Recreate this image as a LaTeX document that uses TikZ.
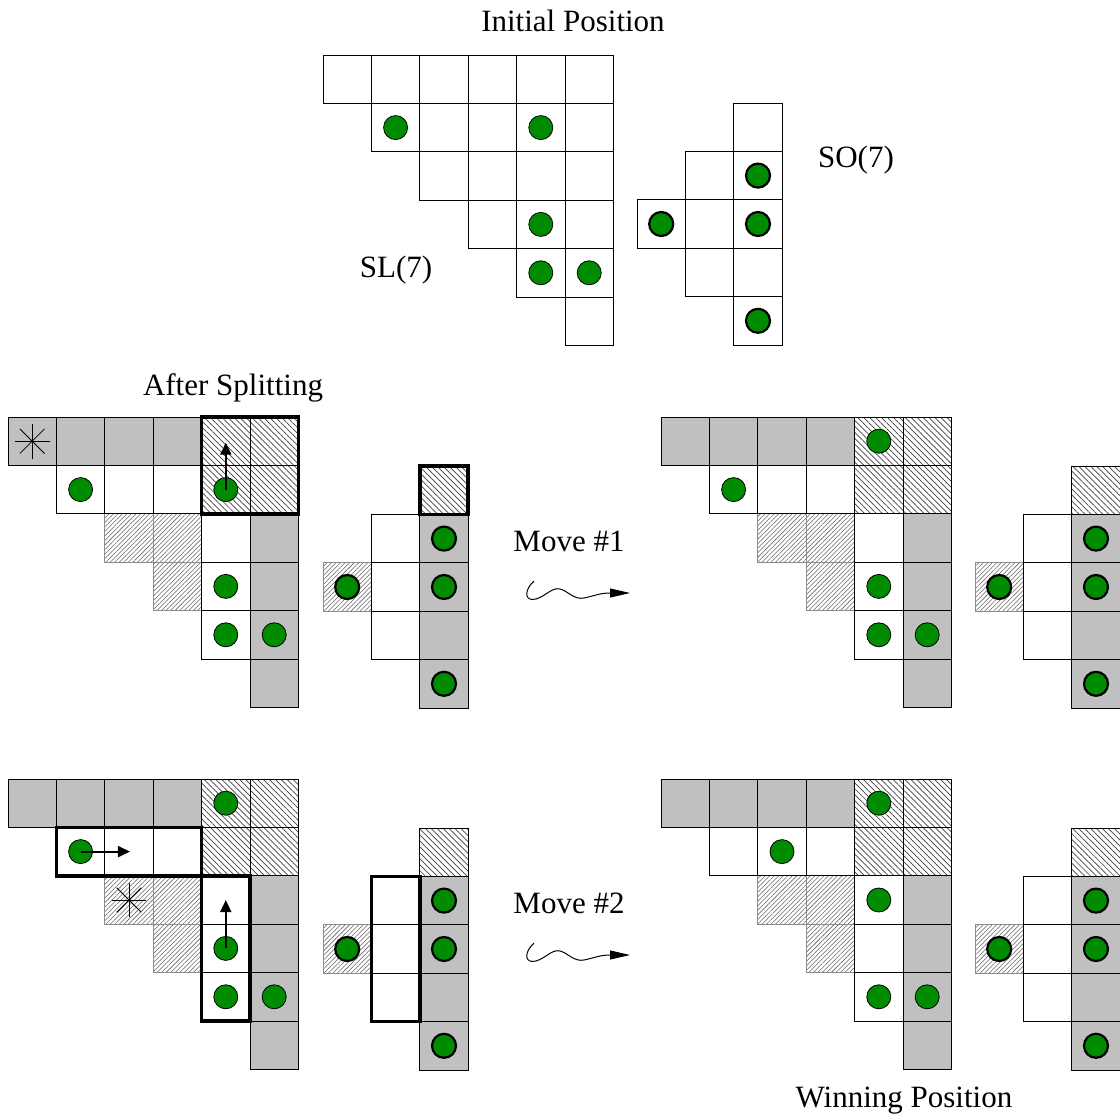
\documentclass[tikz,border=0pt]{standalone}
\usepackage{fontspec}
\setmainfont{Liberation Serif}
\usetikzlibrary{patterns.meta,arrows.meta}
\definecolor{cellgray}{RGB}{192,192,192}
\definecolor{tokgreen}{RGB}{0,140,0}
\tikzset{
  cellbase/.style={line width=0.8pt},
  wcell/.style={cellbase, draw=black, fill=white},
  gcell/.style={cellbase, draw=black, fill=cellgray},
  hacell/.style={cellbase, draw=black, pattern={Lines[angle=-45,distance=4.2pt,line width=0.7pt]}, pattern color=black!75},
  hbcell/.style={cellbase, draw=black!45, pattern={Lines[angle=45,distance=3.2pt,line width=0.55pt]}, pattern color=black!60},
  sltoken/.style={draw=black, fill=tokgreen, line width=0.8pt},
  sotoken/.style={draw=black, fill=tokgreen, line width=2.2pt},
  selbox/.style={draw=black, line width=3.5pt},
  movearrow/.style={line width=1.8pt, -{Triangle[length=12pt,width=11pt]}},
  squig/.style={line width=1pt, -{Triangle[length=20pt,width=9pt]}},
  lbl/.style={font=\fontsize{31}{36}\selectfont, inner sep=0pt, anchor=base},
  starline/.style={line width=0.8pt}
}
\newcommand\Cells[2]{\foreach \c/\r in {#2} {\draw[#1] (\c,\r) rectangle ++(1,1);}}
\newcommand\Toks[2]{\foreach \c/\r in {#2} {\draw[#1] (\c+0.5,\r+0.5) circle[radius=12pt];}}
\newcommand\Astar[2]{\foreach \a in {0,45,90,135} {\draw[starline] (#1+0.5,#2+0.5) +(\a:0.36) -- +(\a+180:0.36);}}
\newcommand\SplitSL{%
  \Cells{hbcell}{2/2,3/2,3/3}
  \Cells{wcell}{1/1,2/1,3/1,4/2,4/3,4/4}
  \Cells{gcell}{0/0,1/0,2/0,3/0,5/2,5/3,5/4,5/5}
  \Cells{hacell}{4/0,5/0,4/1,5/1}}
\newcommand\SplitSO{%
  \Cells{hbcell}{0/2}
  \Cells{wcell}{1/1,1/2,1/3}
  \Cells{gcell}{2/1,2/2,2/3,2/4}
  \Cells{hacell}{2/0}
  \Toks{sotoken}{2/1,2/2,2/4,0/2}}
\begin{document}
\begin{tikzpicture}[x=1pt,y=-1pt]
\fill[white] (0,0) rectangle (1120,1116);
\useasboundingbox (0,0) rectangle (1120,1116);

% ---------- labels ----------
\node[lbl] (tinit) at (573,32) {Initial Position};
\node[lbl] (tsl) at (396,277) {SL(7)};
\node[lbl] (tso) at (856,167) {SO(7)};
\node[lbl] (tsplit) at (233,395) {After Splitting};
\node[lbl] (tmove1) at (569,551) {Move \#1};
\node[lbl] (tmove2) at (569,913) {Move \#2};
\node[lbl] (twin) at (904,1107) {Winning Position};

% ---------- initial position ----------
\begin{scope}[shift={(323,55)},x=48.4pt,y=-48.4pt]
  \foreach \r in {0,...,5} {\foreach \c in {\r,...,5} {\draw[wcell] (\c,\r) rectangle ++(1,1);}}
  \Toks{sltoken}{1/1,4/1,4/3,4/4,5/4}
\end{scope}
\begin{scope}[shift={(637,103)},x=48.4pt,y=-48.4pt]
  \Cells{wcell}{2/0,2/1,2/2,2/3,2/4,1/1,1/2,1/3,0/2}
  \Toks{sotoken}{2/1,2/2,2/4,0/2}
\end{scope}

% ---------- after splitting ----------
\begin{scope}[shift={(8,417)},x=48.4pt,y=-48.4pt]
  \SplitSL
  \Toks{sltoken}{1/1,4/1,4/3,4/4,5/4}
  \Astar{0}{0}
  \draw[selbox] (4,0) rectangle (6,2);
  \coordinate (a1s) at (4.5,1.5);
  \coordinate (a1e) at (4.5,0.53);
  \draw[movearrow] (a1s) -- (a1e);
\end{scope}
\begin{scope}[shift={(323,466)},x=48.4pt,y=-48.4pt]
  \SplitSO
  \draw[selbox] (2,0) rectangle (3,1);
\end{scope}

% ---------- after move 1 ----------
\begin{scope}[shift={(661,417)},x=48.4pt,y=-48.4pt]
  \SplitSL
  \Toks{sltoken}{4/0,1/1,4/3,4/4,5/4}
\end{scope}
\begin{scope}[shift={(975,466)},x=48.4pt,y=-48.4pt]
  \SplitSO
\end{scope}

% ---------- before move 2 ----------
\begin{scope}[shift={(8,779)},x=48.4pt,y=-48.4pt]
  \SplitSL
  \Toks{sltoken}{4/0,1/1,4/3,4/4,5/4}
  \Astar{2}{2}
  \draw[selbox] (1,1) rectangle (4,2);
  \draw[selbox] (4,2) rectangle (5,5);
  \coordinate (a2s) at (1.5,1.5);
  \coordinate (a2e) at (2.52,1.5);
  \draw[movearrow] (a2s) -- (a2e);
  \coordinate (a3s) at (4.5,3.5);
  \coordinate (a3e) at (4.5,2.5);
  \draw[movearrow] (a3s) -- (a3e);
\end{scope}
\begin{scope}[shift={(323,828)},x=48.4pt,y=-48.4pt]
  \SplitSO
  \draw[selbox] (1,1) rectangle (2,4);
\end{scope}

% ---------- winning position ----------
\begin{scope}[shift={(661,779)},x=48.4pt,y=-48.4pt]
  \SplitSL
  \Toks{sltoken}{4/0,2/1,4/2,4/4,5/4}
\end{scope}
\begin{scope}[shift={(975,828)},x=48.4pt,y=-48.4pt]
  \SplitSO
\end{scope}

% ---------- squiggly move arrows ----------
\coordinate (m1s) at (534,581);
\coordinate (m1e) at (630,593);
\draw[squig] (m1s) .. controls (524,590) and (524,602) .. (536,599)
  .. controls (546,596) and (552,587) .. (560,589)
  .. controls (568,591) and (574,600) .. (584,598)
  .. controls (594,596) and (600,593) .. (610,593) -- (m1e);
\coordinate (m2s) at (534,943);
\coordinate (m2e) at (630,955);
\draw[squig] (m2s) .. controls (524,952) and (524,964) .. (536,961)
  .. controls (546,958) and (552,949) .. (560,951)
  .. controls (568,953) and (574,962) .. (584,960)
  .. controls (594,958) and (600,955) .. (610,955) -- (m2e);
\end{tikzpicture}
\end{document}
